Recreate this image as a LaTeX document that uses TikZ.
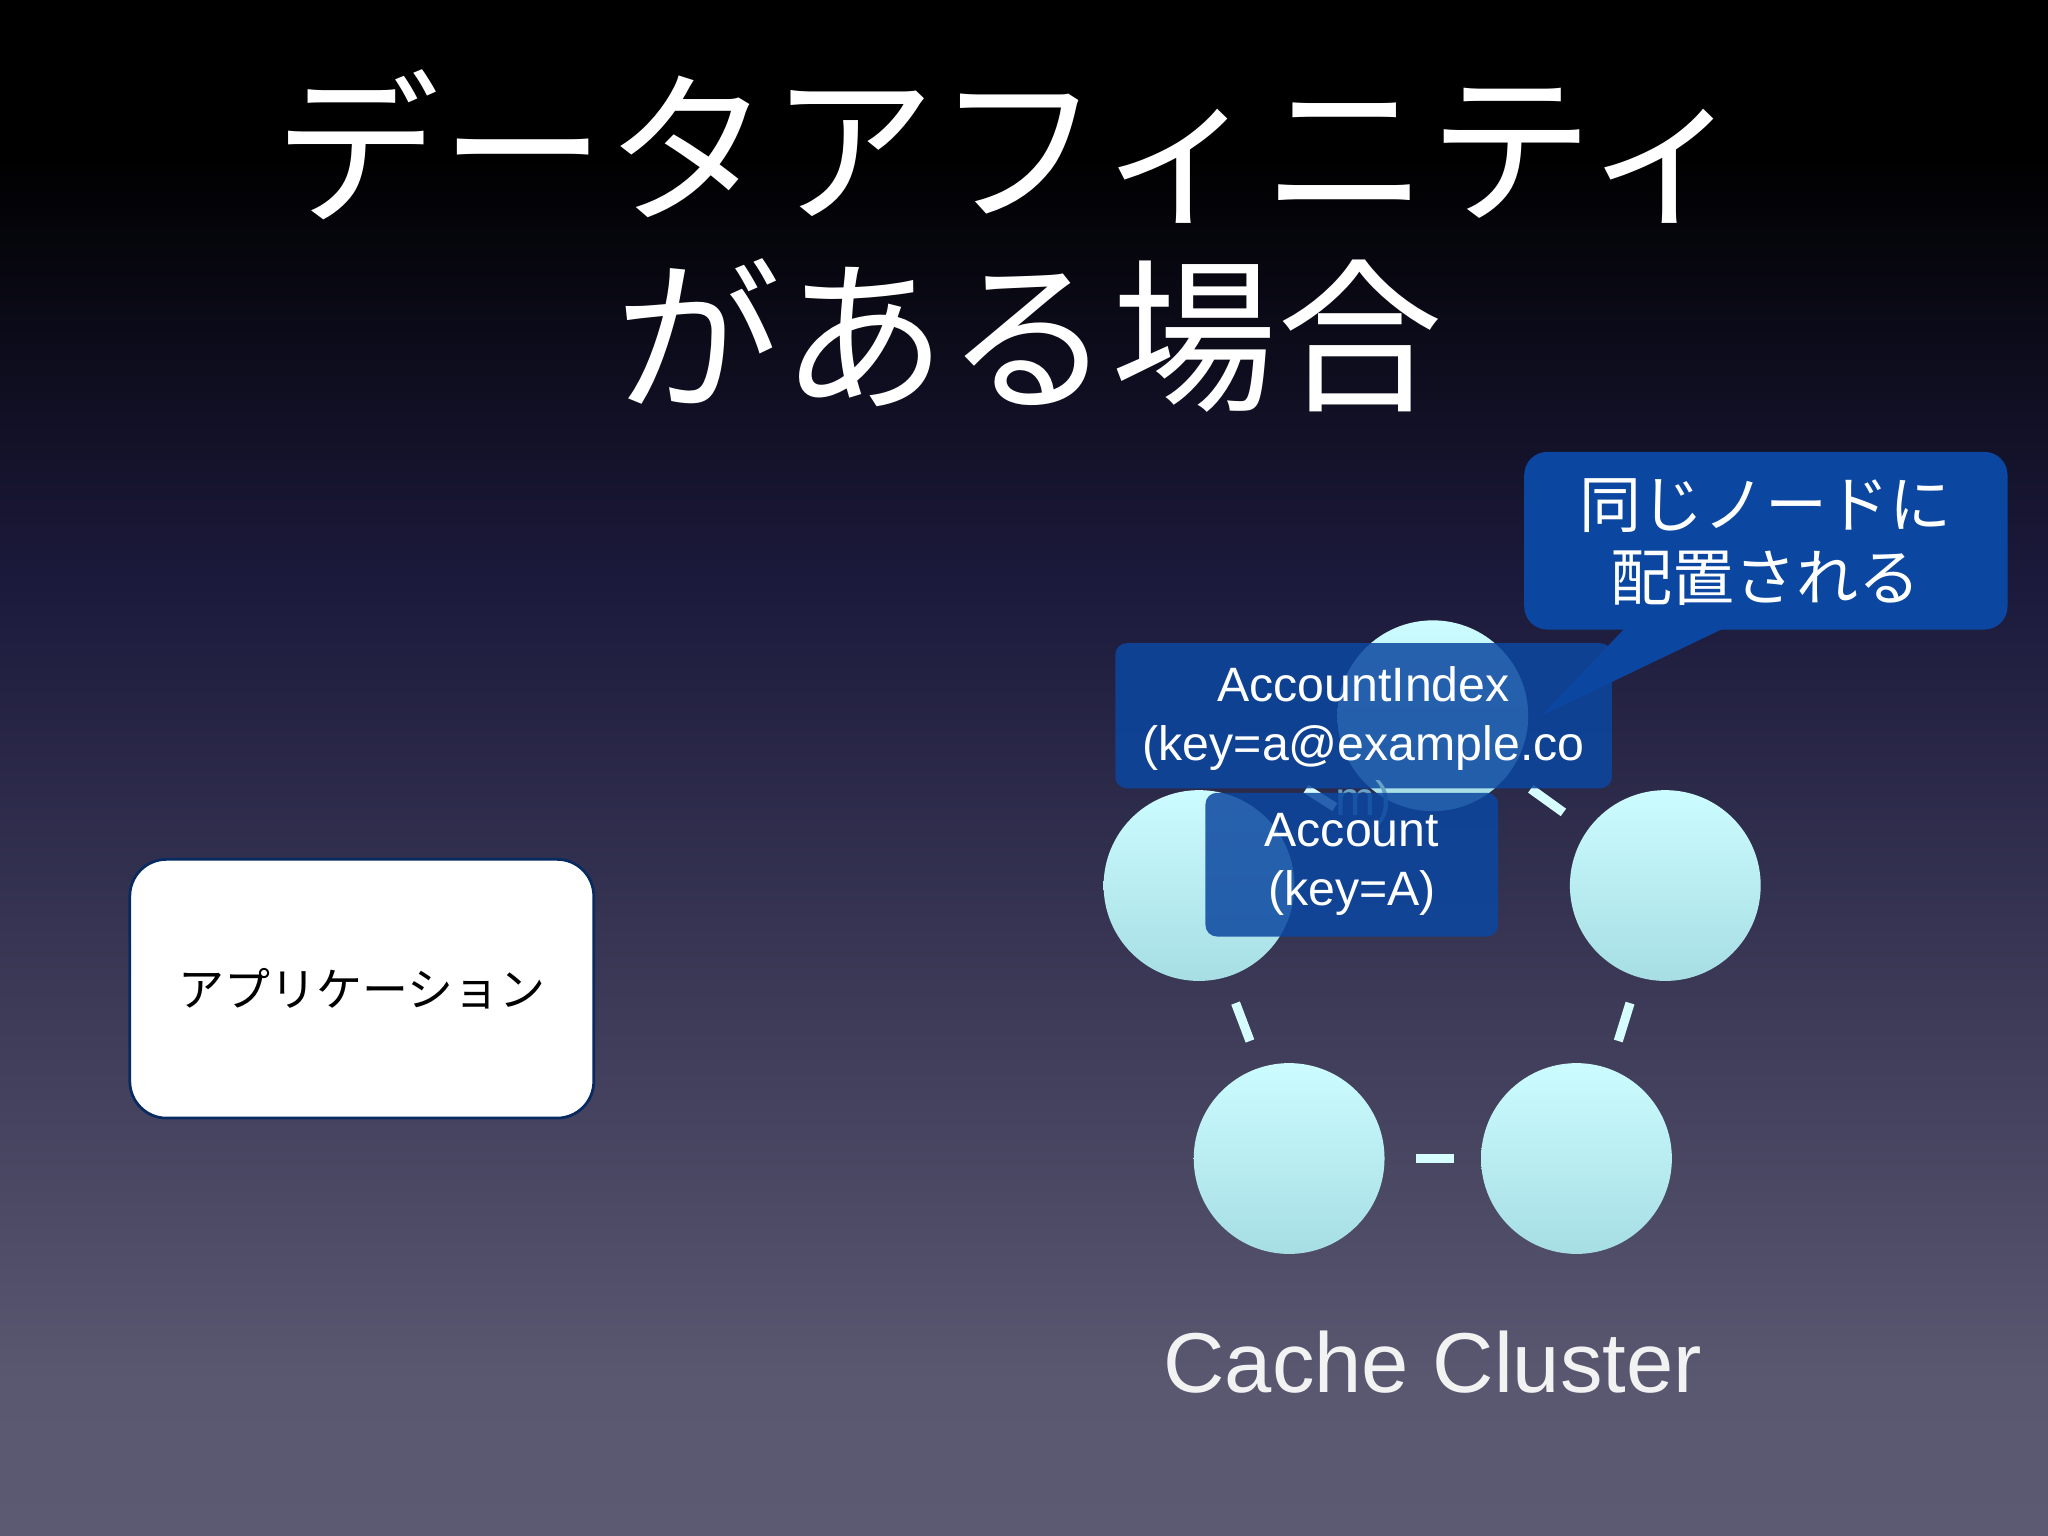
\documentclass[tikz,border=0pt]{standalone}
\usepackage{fontspec}
\setmainfont{Liberation Sans}
\newfontfamily\cjk{Noto Sans CJK JP}
\usetikzlibrary{shapes.geometric}
\definecolor{bgbot}{HTML}{65627A}
\definecolor{bgmid}{HTML}{1C1A3C}
\definecolor{boxblue}{HTML}{0B47A0}
\definecolor{cyanA}{HTML}{CCFCFF}
\definecolor{cyanB}{HTML}{A6DEE4}
\pgfdeclareverticalshading{bgshade}{100bp}{color(0bp)=(bgbot); color(30bp)=(bgbot!85!bgmid); color(56bp)=(bgmid); color(70bp)=(black); color(100bp)=(black)}
\tikzset{
  nodecirc/.style={circle, minimum size=1.46cm, inner sep=0, top color=cyanA, bottom color=cyanB},
  link/.style={line width=2pt, draw=cyanA!80!white},
  keybox/.style={fill=boxblue, fill opacity=0.85, rounded corners=2.5pt, inner sep=0},
  keytext/.style={text=white, align=center, font=\fontsize{10.5pt}{12.8pt}\selectfont},
}
\begin{document}
\begin{tikzpicture}[x=0.01cm,y=-0.01cm]
\useasboundingbox (0,0) rectangle (1568,1176);
\shade[shading=bgshade] (0,0) rectangle (1568,1176);
\node[text=white, font=\cjk\fontsize{36pt}{44pt}\selectfont] (t1) at (775,112) {データアフィニティ};
\node[text=white, font=\cjk\fontsize{36pt}{44pt}\selectfont] (t2) at (788,257) {がある場合};
\node[draw=boxblue!60!black, line width=0.6pt, fill=white, rounded corners=8pt, minimum width=3.55cm, minimum height=1.98cm, font=\cjk\fontsize{10pt}{12pt}\selectfont] (app) at (277,757) {アプリケーション};
\node[nodecirc] (ctop) at (1097,548) {};
\node[nodecirc] (cleft) at (918,678) {};
\node[nodecirc] (cright) at (1275,678) {};
\node[nodecirc] (cbl) at (987,887) {};
\node[nodecirc] (cbr) at (1207,887) {};
\draw[link] (1172,604) -- (1197,622);
\draw[link] (1000,604) -- (1022,618);
\draw[link] (946,768) -- (957,797);
\draw[link] (1248,768) -- (1239,797);
\draw[link] (1084,887) -- (1113,887);
\node[keybox, minimum width=3.8cm, minimum height=1.11cm] (idx) at (1044,548) {};
\node[keytext] (idxt) at (1044,550) {AccountIndex\\(key=a@example.co};
\node[text=boxblue!40!cyanB, font=\fontsize{10.5pt}{12pt}\selectfont] (idxm) at (1044,615) {m)};
\node[keybox, minimum width=2.24cm, minimum height=1.1cm] (acc) at (1035,662) {};
\node[keytext] (acct) at (1035,662) {Account\\(key=A)};
\fill[boxblue, rounded corners=5pt] (1167,346) rectangle (1537,482);
\fill[boxblue] (1245,480) -- (1322,480) -- (1180,548) -- cycle;
\node[text=white, align=center, font=\cjk\fontsize{13.5pt}{16pt}\selectfont] (call) at (1352,415) {同じノードに\\配置される};
\node[text=white!90!gray, font=\fontsize{18.5pt}{22pt}\selectfont] (cc) at (1097,1043) {Cache Cluster};
\end{tikzpicture}
\end{document}
